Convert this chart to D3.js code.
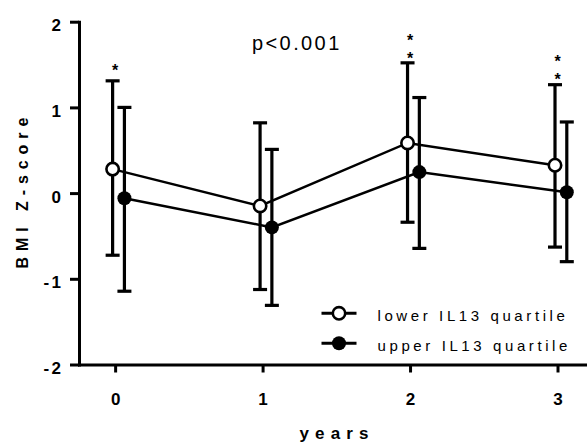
<!DOCTYPE html>
<html>
<head>
<meta charset="utf-8">
<script src="https://cdn.jsdelivr.net/npm/d3@7/dist/d3.min.js"></script>
<style>
  html, body { margin: 0; padding: 0; background: #fff; }
  svg { display: block; }
  text { font-family: "Liberation Sans", Arial, Helvetica, sans-serif; fill: #000; }
</style>
</head>
<body>
<div id="chart"></div>
<script>
// Follow-up years
const years = [0, 1, 2, 3];

// Lower IL13 quartile: mean BMI z-score with error bar ends
const lowerMean = [0.28, -0.15, 0.585, 0.325];
const lowerHigh = [1.31, 0.82, 1.52, 1.265];
const lowerLow  = [-0.725, -1.125, -0.34, -0.63];

// Upper IL13 quartile
const upperMean = [-0.06, -0.40, 0.245, 0.01];
const upperHigh = [1.00, 0.51, 1.115, 0.83];
const upperLow  = [-1.145, -1.31, -0.645, -0.80];

const seriesNames = ["lower IL13 quartile", "upper IL13 quartile"];
const yTicks = [-2, -1, 0, 1, 2];
const xTicks = [0, 1, 2, 3];

// Significance markers: year, number of asterisks, level of the top asterisk
const starYears  = [0, 2, 3];
const starCounts = [1, 2, 2];
const starLevels = [1.47, 1.815, 1.57];
const pLabel = "p<0.001";

const W = 587, H = 443;
const svg = d3.select("#chart").append("svg")
  .attr("width", W).attr("height", H)
  .style("background", "#fff");

const x = d3.scaleLinear().domain([-0.245, 3.2]).range([79, 587]);
const y = d3.scaleLinear().domain([-2, 2]).range([364.5, 21.7]);

// horizontal nudge so the two groups' bars sit side by side
const dodge = [-0.017, 0.063];

const series = [
  { name: seriesNames[0], mean: lowerMean, hi: lowerHigh, lo: lowerLow, open: true },
  { name: seriesNames[1], mean: upperMean, hi: upperHigh, lo: upperLow, open: false }
];

const plain = d => String(d);   // ASCII hyphen for negatives

// ---- axes ----
const xAxis = d3.axisBottom(x).tickValues(xTicks).tickSize(8).tickSizeOuter(0).tickFormat(plain);
const gx = svg.append("g").attr("transform", `translate(0,${y(-2)})`).call(xAxis);
gx.select(".domain").attr("stroke", "#000").attr("stroke-width", 3);
gx.selectAll(".tick line").attr("stroke", "#000").attr("stroke-width", 3);
gx.selectAll(".tick text")
  .attr("y", 40).attr("dy", 0)
  .style("font-size", "17px").style("font-weight", "bold");

const yAxis = d3.axisLeft(y).tickValues(yTicks).tickSize(9).tickSizeOuter(0).tickFormat(plain);
const gy = svg.append("g").attr("transform", `translate(${x.range()[0]},0)`).call(yAxis);
gy.select(".domain").attr("stroke", "#000").attr("stroke-width", 3);
gy.selectAll(".tick line").attr("stroke", "#000").attr("stroke-width", 3);
gy.selectAll(".tick text")
  .attr("x", -15.5).attr("dy", 9)
  .style("font-size", "17px").style("font-weight", "bold")
  .style("letter-spacing", "2.5px");
svg.selectAll(".domain").attr("stroke-linecap", "square");

// axis titles, centred on their axes
const yMid = (y.range()[0] + y.range()[1]) / 2;
svg.append("text")
  .attr("transform", `translate(28,${yMid}) rotate(-90)`)
  .attr("text-anchor", "middle")
  .style("font-size", "16px").style("font-weight", "bold")
  .attr("textLength", 151).attr("lengthAdjust", "spacing")
  .text("BMI Z-score");

const xMid = (x.range()[0] + x.range()[1]) / 2;
svg.append("text")
  .attr("x", xMid + 1).attr("y", 439)
  .attr("text-anchor", "middle")
  .style("font-size", "17px").style("font-weight", "bold")
  .attr("textLength", 69).attr("lengthAdjust", "spacing")
  .text("years");

// ---- data marks ----
const line = d3.line();
series.forEach((s, si) => {
  const g = svg.append("g");
  const px = years.map(v => x(v + dodge[si]));
  years.forEach((v, i) => {
    g.append("line")
      .attr("x1", px[i]).attr("x2", px[i])
      .attr("y1", y(s.hi[i])).attr("y2", y(s.lo[i]))
      .attr("stroke", "#000").attr("stroke-width", 3.2);
    [s.hi[i], s.lo[i]].forEach(e => {
      g.append("line")
        .attr("x1", px[i] - 7).attr("x2", px[i] + 7)
        .attr("y1", y(e)).attr("y2", y(e))
        .attr("stroke", "#000").attr("stroke-width", 3.2);
    });
  });
});
series.forEach((s, si) => {
  const pts = years.map((v, i) => [x(v + dodge[si]), y(s.mean[i])]);
  svg.append("path")
    .attr("d", line(pts))
    .attr("fill", "none").attr("stroke", "#000").attr("stroke-width", 2.5);
});
series.forEach((s, si) => {
  svg.append("g").selectAll("circle")
    .data(years)
    .join("circle")
    .attr("cx", (v) => x(v + dodge[si]))
    .attr("cy", (v, i) => y(s.mean[i]))
    .attr("r", s.open ? 6.2 : 7)
    .attr("fill", s.open ? "#fff" : "#000")
    .attr("stroke", "#000").attr("stroke-width", s.open ? 2.6 : 0);
});

// ---- significance annotations ----
const starGroups = svg.append("g").selectAll("g")
  .data(starYears)
  .join("g");
starGroups.each(function (v, i) {
  const g = d3.select(this);
  for (let k = 0; k < starCounts[i]; k++) {
    g.append("text")
      .attr("x", x(v))
      .attr("y", y(starLevels[i]) + 8.5 + k * 18)
      .attr("text-anchor", "middle")
      .style("font-size", "16px")
      .style("font-weight", "bold")
      .text("*");
  }
});

svg.append("text")
  .attr("x", 252).attr("y", 49.5)
  .style("font-size", "20px")
  .style("letter-spacing", "2.4px")
  .text(pLabel);

// ---- legend ----
const legend = svg.append("g");
series.forEach((s, si) => {
  const cy = 313.3 + si * 30;
  legend.append("line")
    .attr("x1", 321.5).attr("x2", 356.5)
    .attr("y1", cy).attr("y2", cy)
    .attr("stroke", "#000").attr("stroke-width", 3);
  legend.append("circle")
    .attr("cx", 339).attr("cy", cy)
    .attr("r", s.open ? 6.2 : 7)
    .attr("fill", s.open ? "#fff" : "#000")
    .attr("stroke", "#000").attr("stroke-width", s.open ? 2.6 : 0);
  legend.append("text")
    .attr("x", 377.5).attr("y", cy + 7.5)
    .style("font-size", "15px")
    .style("letter-spacing", "3.6px")
    .text(s.name);
});
</script>
</body>
</html>
